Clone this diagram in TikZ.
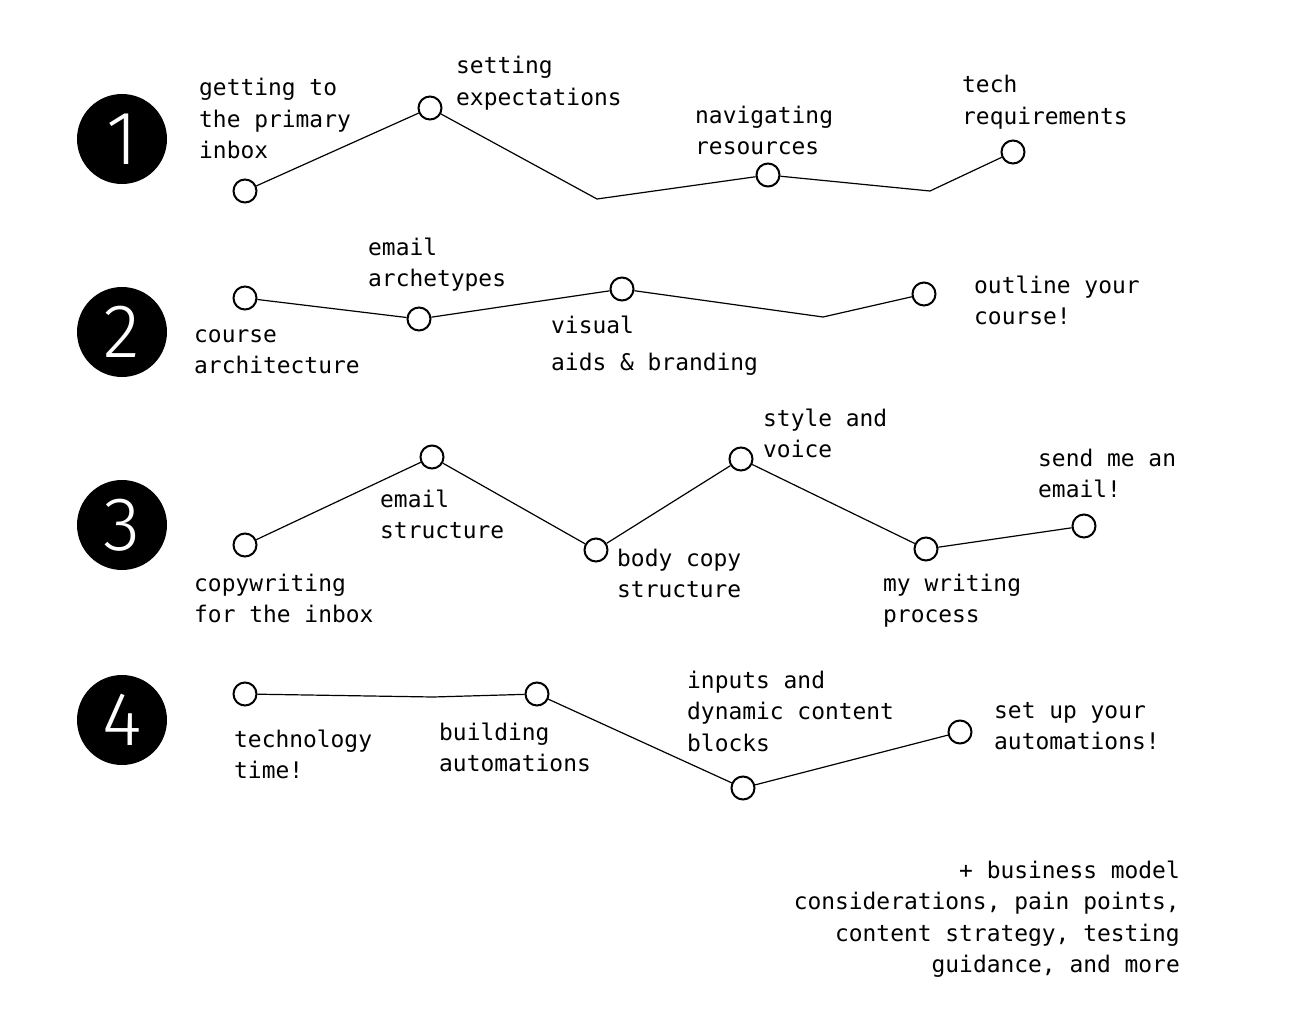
\documentclass[tikz,border=0pt]{standalone}
\usepackage{fontspec}
\setmonofont{DejaVu Sans Mono}
\newfontfamily\numfont{Fira Sans Light}
\tikzset{
    stop/.style={circle, draw, line width=2pt, minimum size=23pt, inner sep=0pt, fill=white},
    trail/.style={line width=1.2pt},
    lbl/.style={anchor=base west, align=left, inner sep=0pt, font=\ttfamily\fontsize{22.9}{31.5}\selectfont},
    badge/.style={circle, fill=black, minimum size=90pt, inner sep=0pt, text=white, font=\numfont\fontsize{76}{76}\selectfont}
}
\newcommand{\stage}[2]{
    \node[badge] (st#1) at (122, #2) {#1}
}

\begin{document}
\begin{tikzpicture}[x=1pt, y=-1pt]
    \useasboundingbox (0, 0) rectangle (1296, 1030);
    \stage1{139};
    \stage2{332};
    \stage3{525};
    \stage4{720};
    % row 1 (labels sit on the baseline of their last line)
    \node[stop] (s1a) at (245, 191) {};
    \node[stop] (s1b) at (430, 108) {};
    \node[stop] (s1c) at (768, 175) {};
    \node[stop] (s1d) at (1013, 152) {};
    \coordinate (k1a) at (597, 199);
    \coordinate (k1b) at (930, 191);
    \draw[trail] (s1a)--(s1b)--(k1a)--(s1c)--(k1b)--(s1d);
    \node[lbl] (t1a) at (199, 159) {getting to\\the primary\\inbox};
    \node[lbl] (t1b) at (456, 105.5) {setting\\expectations};
    \node[lbl] (t1c) at (695, 154.5) {navigating\\resources};
    \node[lbl] (t1d) at (962, 124.5) {tech\\requirements};
    % row 2
    \node[stop] (s2a) at (245, 298) {};
    \node[stop] (s2b) at (419, 319) {};
    \node[stop] (s2c) at (622, 289) {};
    \node[stop] (s2d) at (924, 294) {};
    \coordinate (k2a) at (823, 317);
    \draw[trail] (s2a)--(s2b)--(s2c)--(k2a)--(s2d);
    \node[lbl] (t2a) at (194, 373.5) {course\\architecture};
    \node[lbl] (t2b) at (368, 286.5) {email\\archetypes};
    \node[lbl] (t2c) at (551, 370) {visual\\[5.5pt]aids \& branding};
    \node[lbl] (t2d) at (974, 324.5) {outline your\\course!};
    % row 3
    \node[stop] (s3a) at (245, 545) {};
    \node[stop] (s3b) at (432, 457) {};
    \node[stop] (s3c) at (596, 550) {};
    \node[stop] (s3d) at (741, 459) {};
    \node[stop] (s3e) at (926, 549) {};
    \node[stop] (s3f) at (1084, 526) {};
    \draw[trail] (s3a)--(s3b)--(s3c)--(s3d)--(s3e)--(s3f);
    \node[lbl] (t3a) at (194, 622.5) {copywriting\\for the inbox};
    \node[lbl] (t3b) at (380, 538.5) {email\\structure};
    \node[lbl] (t3c) at (617, 597.5) {body copy\\structure};
    \node[lbl] (t3d) at (763, 457.5) {style and\\voice};
    \node[lbl] (t3e) at (883, 622.5) {my writing\\process};
    \node[lbl] (t3f) at (1038, 497.5) {send me an\\email!};
    % row 4
    \node[stop] (s4a) at (245, 694) {};
    \node[stop] (s4b) at (537, 694) {};
    \node[stop] (s4c) at (743, 788) {};
    \node[stop] (s4d) at (960, 732) {};
    \coordinate (k4a) at (433, 697);
    \draw[trail] (s4a)--(k4a)--(s4b)--(s4c)--(s4d);
    \node[lbl] (t4a) at (234, 778.5) {technology\\time!};
    \node[lbl] (t4b) at (439, 771.5) {building\\automations};
    \node[lbl] (t4c) at (687, 751) {inputs and\\dynamic content\\blocks};
    \node[lbl] (t4d) at (994, 749.5) {set up your\\automations!};
    % extras
    \node[lbl, anchor=base east, align=right] (more) at (1180, 972.5) {+ business model\\considerations, pain points,\\content strategy, testing\\guidance, and more};
\end{tikzpicture}
\end{document}
